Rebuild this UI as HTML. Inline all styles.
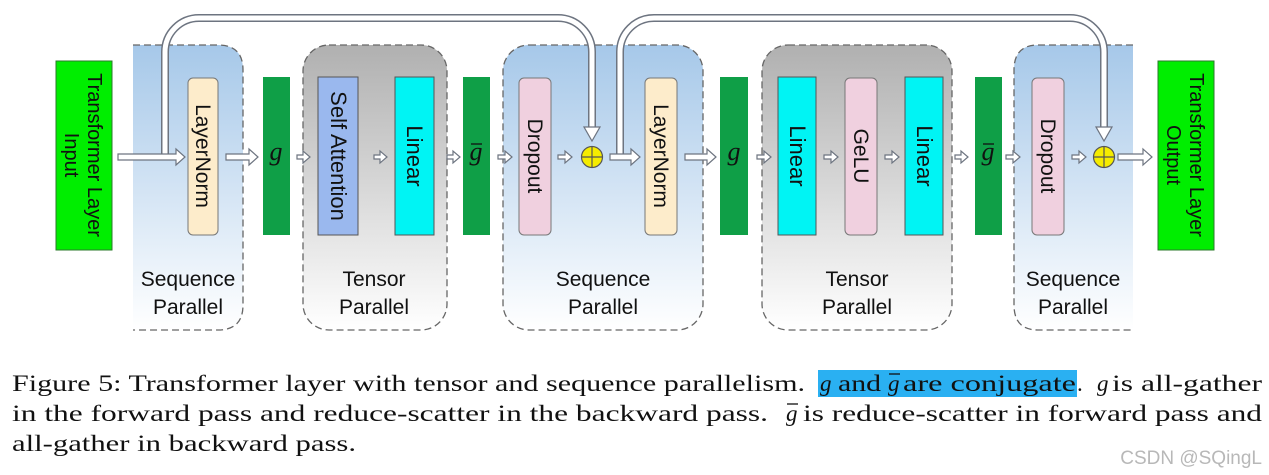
<!DOCTYPE html>
<html><head><meta charset="utf-8"><style>
html,body{margin:0;padding:0;background:#fff;width:1269px;height:475px;overflow:hidden}
</style></head><body>
<svg width="1269" height="475" viewBox="0 0 1269 475" xmlns="http://www.w3.org/2000/svg">
<defs>
<linearGradient id="bl" x1="0" y1="0" x2="0" y2="1"><stop offset="0" stop-color="#a6c8e9"/><stop offset="1" stop-color="#ffffff"/></linearGradient>
<linearGradient id="gr" x1="0" y1="0" x2="0" y2="1"><stop offset="0" stop-color="#b0b0b0"/><stop offset="1" stop-color="#ffffff"/></linearGradient>
</defs>
<path d="M133,45 H218 Q243,45 243,70 V305 Q243,330 218,330 H133 Z" fill="url(#bl)"/>
<path d="M133,45 H218 Q243,45 243,70 V305 Q243,330 218,330 H133" fill="none" stroke="#666" stroke-width="1.3" stroke-dasharray="7,4"/>
<rect x="303" y="45" width="144" height="285" rx="26" fill="url(#gr)" stroke="#666" stroke-width="1.3" stroke-dasharray="7,4"/>
<rect x="503" y="45" width="200" height="285" rx="26" fill="url(#bl)" stroke="#666" stroke-width="1.3" stroke-dasharray="7,4"/>
<rect x="762" y="45" width="190" height="285" rx="26" fill="url(#gr)" stroke="#666" stroke-width="1.3" stroke-dasharray="7,4"/>
<path d="M1133,45 H1038 Q1014,45 1014,70 V305 Q1014,330 1038,330 H1133 Z" fill="url(#bl)"/>
<path d="M1133,45 H1038 Q1014,45 1014,70 V305 Q1014,330 1038,330 H1133" fill="none" stroke="#666" stroke-width="1.3" stroke-dasharray="7,4"/>
<rect x="56" y="61" width="56" height="189" fill="#00ee00" stroke="#2b7a2b"/>
<rect x="1158" y="61" width="56" height="189" fill="#00ee00" stroke="#2b7a2b"/>
<rect x="188" y="78" width="30" height="157" rx="5" fill="#fdeccb" stroke="#777"/>
<rect x="263" y="77" width="27" height="158" fill="#0f9f47"/>
<rect x="318" y="77" width="40" height="158" fill="#9ab8ee" stroke="#555"/>
<rect x="395" y="77" width="39" height="158" fill="#00f4f4" stroke="#555"/>
<rect x="463" y="77" width="27" height="158" fill="#0f9f47"/>
<rect x="519" y="78" width="32" height="157" rx="5" fill="#f0d0df" stroke="#777"/>
<rect x="645" y="78" width="32" height="157" rx="5" fill="#fdeccb" stroke="#777"/>
<rect x="720" y="77" width="28" height="158" fill="#0f9f47"/>
<rect x="778" y="77" width="38" height="158" fill="#00f4f4" stroke="#555"/>
<rect x="845" y="78" width="32" height="157" rx="5" fill="#f0d0df" stroke="#777"/>
<rect x="905" y="77" width="38" height="158" fill="#00f4f4" stroke="#555"/>
<rect x="975" y="77" width="27" height="158" fill="#0f9f47"/>
<rect x="1032" y="78" width="32" height="157" rx="5" fill="#f0d0df" stroke="#777"/>
<g font-family="Liberation Sans, sans-serif" font-size="21" fill="#111" text-anchor="middle">
<text transform="translate(84,155) rotate(90)" font-size="20"><tspan x="0" dy="-4">Transformer Layer</tspan><tspan x="0" dy="23">Input</tspan></text>
<text transform="translate(1186,155) rotate(90)" font-size="20"><tspan x="0" dy="-4">Transformer Layer</tspan><tspan x="0" dy="23">Output</tspan></text>
<text transform="translate(203,156) rotate(90)" dy="7">LayerNorm</text>
<text transform="translate(338,156) rotate(90)" dy="7" font-size="22">Self Attention</text>
<text transform="translate(414,156) rotate(90)" dy="7" font-size="22">Linear</text>
<text transform="translate(535,156) rotate(90)" dy="7">Dropout</text>
<text transform="translate(661,156) rotate(90)" dy="7">LayerNorm</text>
<text transform="translate(797,156) rotate(90)" dy="7" font-size="22">Linear</text>
<text transform="translate(861,156) rotate(90)" dy="7">GeLU</text>
<text transform="translate(924,156) rotate(90)" dy="7" font-size="22">Linear</text>
<text transform="translate(1048,156) rotate(90)" dy="7">Dropout</text>
</g>
<g font-family="Liberation Serif, serif" font-style="italic" font-size="26" fill="#111" text-anchor="middle">
<text x="276" y="160">g</text><text x="476" y="160">g</text><text x="734" y="160">g</text><text x="988" y="160">g</text>
</g>
<line x1="471" y1="144" x2="482" y2="144" stroke="#111" stroke-width="1.3"/>
<line x1="983" y1="144" x2="994" y2="144" stroke="#111" stroke-width="1.3"/>
<g font-family="Liberation Sans, sans-serif" font-size="21" fill="#111" text-anchor="middle">
<text x="188" y="286">Sequence</text><text x="188" y="314">Parallel</text>
<text x="374" y="286">Tensor</text><text x="374" y="314">Parallel</text>
<text x="603" y="286">Sequence</text><text x="603" y="314">Parallel</text>
<text x="857" y="286">Tensor</text><text x="857" y="314">Parallel</text>
<text x="1073" y="286">Sequence</text><text x="1073" y="314">Parallel</text>
</g>
<g fill="none">
<path d="M165,157 V52 A34,34 0 0 1 199,18 H558 A34,34 0 0 1 592,52 V128" stroke="#6d7480" stroke-width="8"/>
<path d="M165,157 V52 A34,34 0 0 1 199,18 H558 A34,34 0 0 1 592,52 V129" stroke="#fff" stroke-width="5"/>
<path d="M620,157 V52 A34,34 0 0 1 654,18 H1070 A34,34 0 0 1 1104,52 V128" stroke="#6d7480" stroke-width="8"/>
<path d="M620,157 V52 A34,34 0 0 1 654,18 H1070 A34,34 0 0 1 1104,52 V129" stroke="#fff" stroke-width="5"/>
</g>
<g fill="#fff" stroke="#6d7480" stroke-width="1.2">
<polygon points="584,127 600,127 592,141"/>
<polygon points="1096,127 1112,127 1104,141"/>
<polygon points="118,154 176,154 176,149 185,157 176,165 176,160 118,160"/>
<polygon points="226,154 249,154 249,149 258,157 249,165 249,160 226,160"/>
<polygon points="610,154 631,154 631,149 640,157 631,165 631,160 610,160"/>
<polygon points="685,154 707,154 707,149 716,157 707,165 707,160 685,160"/>
<polygon points="1118,154 1143,154 1143,149 1152,157 1143,165 1143,160 1118,160"/>
<polygon points="297,155 303,155 303,151 310,157 303,163 303,159 297,159"/>
<polygon points="374,155 380,155 380,151 387,157 380,163 380,159 374,159"/>
<polygon points="447,155 453,155 453,151 460,157 453,163 453,159 447,159"/>
<polygon points="498,155 505,155 505,151 512,157 505,163 505,159 498,159"/>
<polygon points="558,155 565,155 565,151 572,157 565,163 565,159 558,159"/>
<polygon points="757,155 764,155 764,151 771,157 764,163 764,159 757,159"/>
<polygon points="824,155 831,155 831,151 838,157 831,163 831,159 824,159"/>
<polygon points="885,155 892,155 892,151 899,157 892,163 892,159 885,159"/>
<polygon points="955,155 961,155 961,151 968,157 961,163 961,159 955,159"/>
<polygon points="1006,155 1013,155 1013,151 1020,157 1013,163 1013,159 1006,159"/>
<polygon points="1072,155 1079,155 1079,151 1086,157 1079,163 1079,159 1072,159"/>
</g>
<g stroke="#555" stroke-width="1.2">
<circle cx="592" cy="157" r="10.5" fill="#f5ec00"/>
<line x1="581.5" y1="157" x2="602.5" y2="157"/><line x1="592" y1="146.5" x2="592" y2="167.5"/>
<circle cx="1104" cy="157" r="10.5" fill="#f5ec00"/>
<line x1="1093.5" y1="157" x2="1114.5" y2="157"/><line x1="1104" y1="146.5" x2="1104" y2="167.5"/>
</g>
<rect x="818" y="370" width="259" height="27" fill="#2ab0f2"/>
<g font-family="Liberation Serif, serif" font-size="23" fill="#111" lengthAdjust="spacingAndGlyphs">
<text x="12" y="391" textLength="793" lengthAdjust="spacingAndGlyphs">Figure 5: Transformer layer with tensor and sequence parallelism.</text>
<text x="820" y="391" font-style="italic">g</text>
<text x="838" y="391" textLength="43" lengthAdjust="spacingAndGlyphs">and</text>
<text x="888" y="391" font-style="italic">g</text>
<text x="903" y="391" textLength="173" lengthAdjust="spacingAndGlyphs">are conjugate</text>
<text x="1077" y="391">.</text>
<text x="1097" y="391" font-style="italic">g</text>
<text x="1112" y="391" textLength="150" lengthAdjust="spacingAndGlyphs">is all-gather</text>
<text x="12" y="421" textLength="756" lengthAdjust="spacingAndGlyphs">in the forward pass and reduce-scatter in the backward pass.</text>
<text x="786" y="421" font-style="italic">g</text>
<text x="803" y="421" textLength="459" lengthAdjust="spacingAndGlyphs">is reduce-scatter in forward pass and</text>
<text x="12" y="451" textLength="344" lengthAdjust="spacingAndGlyphs">all-gather in backward pass.</text>
</g>
<line x1="889" y1="374" x2="900" y2="374" stroke="#111" stroke-width="1.3"/>
<line x1="787" y1="404" x2="798" y2="404" stroke="#111" stroke-width="1.3"/>
<text x="1262" y="464" text-anchor="end" font-family="Liberation Sans, sans-serif" font-size="19" fill="#b8b8b8">CSDN @SQingL</text>
</svg>
</body></html>
